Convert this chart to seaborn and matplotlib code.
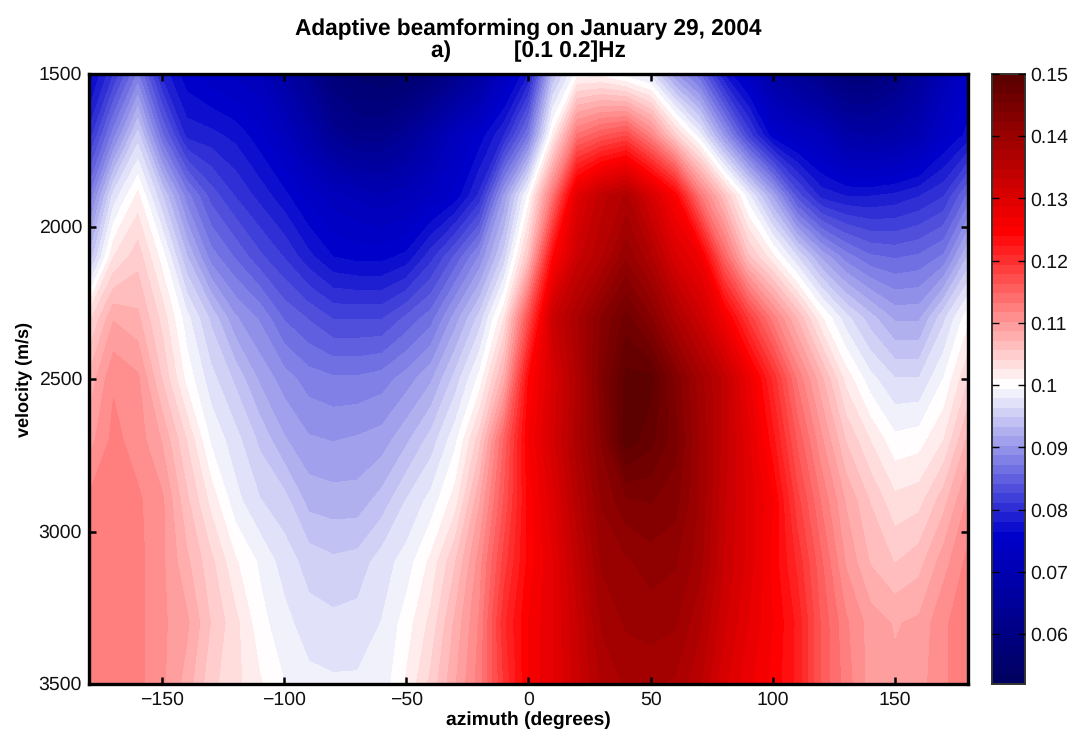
import numpy as np
import pandas as pd
import matplotlib
matplotlib.use("Agg")
import matplotlib.pyplot as plt
from matplotlib.colors import LinearSegmentedColormap
from matplotlib.transforms import ScaledTranslation
import seaborn as sns

sns.set_style("white")
plt.rcParams['font.family'] = ['Liberation Sans', 'DejaVu Sans']
plt.rcParams['text.hinting'] = 'none'

# Values
azimuth = list(range(-180, 181, 10))
velocity = [1500, 1700, 1900, 2100, 2300, 2500, 2700, 2900, 3100, 3300, 3500]

v1500 = [.0755, .081, .0875, .079, .0755, .074, .073, .072, .0675, .063, .058, .056, .055, .056, .058, .0615, .066, .0725, .078,
         .0935, .1003, .1003, .0985, .097, .0905, .086, .078, .0735, .0675, .064, .061, .058, .058, .0605, .065, .0705, .0745]
v1700 = [.080, .088, .0955, .086, .079, .0785, .0775, .0755, .0725, .0685, .0635, .0615, .0615, .064, .068, .0725, .0755, .0795, .087,
         .1015, .1135, .116, .1175, .112, .1045, .0985, .090, .082, .0755, .0735, .072, .068, .067, .068, .070, .0745, .077]
v1900 = [.087, .097, .1015, .095, .088, .0835, .081, .079, .077, .0745, .0725, .0715, .0705, .0715, .0735, .0755, .080, .0905, .100,
         .1135, .129, .134, .1365, .131, .125, .1135, .106, .0985, .0915, .0835, .079, .078, .078, .0785, .0795, .081, .086]
v2100 = [.0935, .1025, .105, .1003, .0935, .088, .0855, .083, .081, .0785, .0765, .076, .076, .077, .0805, .0845, .089, .0955, .106,
         .124, .1325, .136, .1405, .1365, .1305, .127, .115, .106, .1015, .0965, .0915, .088, .086, .0855, .086, .0875, .0935]
v2300 = [.1035, .1085, .1075, .1035, .0985, .0945, .0905, .0885, .0855, .084, .0825, .0825, .0825, .0845, .0865, .091, .0955, .1025, .117,
         .1325, .1375, .1425, .146, .1425, .137, .1325, .1265, .119, .1125, .107, .1012, .097, .094, .0915, .0915, .096, .1005]
v2500 = [.1075, .1115, .1105, .1055, .1005, .097, .0945, .0915, .0895, .088, .0875, .0875, .088, .0895, .0915, .0955, .100, .108, .124,
         .1305, .1365, .1435, .149, .149, .1435, .1385, .134, .1275, .1205, .113, .1075, .102, .0985, .0965, .0965, .0995, .104]
v2700 = [.1095, .1122, .111, .1085, .104, .0992, .097, .0945, .092, .0905, .0902, .0905, .091, .093, .0955, .099, .105, .115, .1255,
         .131, .137, .1425, .1495, .1475, .1445, .139, .134, .129, .123, .116, .1105, .1055, .1025, .0999, .1003, .1025, .1075]
v2900 = [.112, .1125, .112, .1105, .106, .102, .0985, .0965, .0955, .0928, .0925, .0925, .094, .0965, .0985, .1018, .1085, .1165, .1245,
         .1295, .1355, .141, .1435, .144, .143, .139, .1335, .1295, .1255, .1185, .113, .1085, .1055, .103, .1035, .1065, .1105]
v3100 = [.1125, .1125, .1122, .1105, .1075, .1045, .1012, .0992, .0972, .0958, .0952, .0955, .0972, .0986, .1014, .1055, .111, .1185, .1245,
         .1285, .134, .1395, .1405, .1415, .141, .1385, .133, .1295, .125, .1205, .115, .110, .107, .1055, .1065, .1095, .1122]
v3300 = [.1125, .1125, .1122, .1105, .109, .1055, .103, .100, .0985, .097, .0968, .097, .098, .1002, .103, .1075, .112, .1205, .1255,
         .1285, .133, .138, .1395, .140, .1395, .1365, .132, .1285, .1255, .122, .116, .112, .1095, .1085, .109, .1115, .1125]
v3500 = [.1125, .1125, .1122, .1105, .108, .1045, .103, .1012, .0995, .0985, .0982, .0982, .0985, .1012, .1045, .1085, .1125, .1195, .1255,
         .1285, .1325, .1365, .138, .138, .1375, .135, .1305, .1275, .125, .122, .116, .1125, .1095, .109, .1095, .1115, .1125]

power = pd.DataFrame([v1500, v1700, v1900, v2100, v2300, v2500, v2700, v2900, v3100, v3300, v3500],
                     index=velocity, columns=azimuth)

az_ticks = [-150, -100, -50, 0, 50, 100, 150]
vel_ticks = [1500, 2000, 2500, 3000, 3500]
cbar_ticks = [0.06, 0.07, 0.08, 0.09, 0.10, 0.11, 0.12, 0.13, 0.14, 0.15]
cbar_labels = ['0.06', '0.07', '0.08', '0.09', '0.1', '0.11', '0.12', '0.13', '0.14', '0.15']

vmin, vmax = 0.052, 0.15
n_colors = 64


def pos(value):
    return (value - vmin) / (vmax - vmin)


cmap = LinearSegmentedColormap.from_list(
    'blue_white_red',
    [(0, (0, 0, 0.38)), (pos(0.0755), (0, 0, 0.80)), (pos(0.1), (1, 1, 1)),
     (pos(0.125), (1, 0, 0)), (1, (0.36, 0, 0))],
    N=n_colors)

fig = plt.figure(figsize=(10.84, 7.36), dpi=100)
ax = fig.add_axes([89 / 1084, 1 - 684 / 736, 879 / 1084, 610 / 736])
cax = fig.add_axes([992 / 1084, 1 - 684 / 736, 33 / 1084, 610 / 736])

# heatmap gives the axes and colorbar, the bands smooth the read grid
sns.heatmap(power, ax=ax, cbar_ax=cax, cmap=cmap, vmin=vmin, vmax=vmax)
xc = np.arange(len(azimuth)) + 0.5
yc = np.arange(len(velocity)) + 0.5
ax.contourf(xc, yc, power.values, levels=np.linspace(vmin, vmax, n_colors + 1),
            cmap=cmap, vmin=vmin, vmax=vmax, extend='both', antialiased=False)
ax.set_xlim(xc[0], xc[-1])
ax.set_ylim(yc[-1], yc[0])
ax.set_axisbelow(False)

ax.set_xticks([np.interp(a, azimuth, xc) for a in az_ticks])
ax.set_xticklabels([str(a).replace('-', '\u2212') for a in az_ticks], rotation=0)
ax.set_yticks([np.interp(v, velocity, yc) for v in vel_ticks])
ax.set_yticklabels([str(v) for v in vel_ticks], rotation=0)
ax.tick_params(direction='in', length=5, width=1.8, top=True, right=True, bottom=True, left=True,
               labelsize=14, pad=5, color='black', labelcolor='#111111')
for spine in ax.spines.values():
    spine.set_visible(True)
    spine.set_linewidth(2.4)
    spine.set_color('black')

# labels sit a little lower in the reference
shift = ScaledTranslation(0, -1 / 72, fig.dpi_scale_trans)
for label in ax.get_yticklabels():
    label.set_transform(label.get_transform() + shift)

ax.set_xlabel('azimuth (degrees)', fontweight='bold', fontsize=13.9, labelpad=2, color='black')
ax.set_ylabel('velocity (m/s)', fontweight='bold', fontsize=13, labelpad=5, color='black')
ax.set_title('Adaptive beamforming on January 29, 2004\na)          [0.1 0.2]Hz',
             fontweight='bold', fontsize=16.3, pad=12, linespacing=1.05, color='black')

cax.set_yticks(cbar_ticks)
cax.set_yticklabels(cbar_labels)
cax.tick_params(direction='in', length=5, width=1.0, left=True, right=True,
                labelsize=14, pad=4, color='black', labelcolor='#111111')
cax.set_axisbelow(False)
for spine in cax.spines.values():
    spine.set_visible(True)
    spine.set_linewidth(1.2)
    spine.set_color('#333333')

fig.savefig('out.png', dpi=100)
